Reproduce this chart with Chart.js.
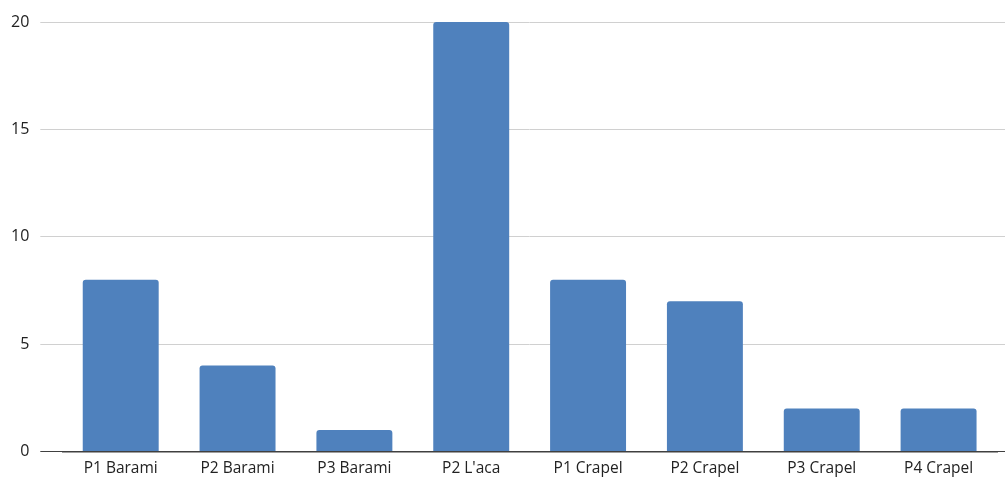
<!DOCTYPE html>
<html>
<head>
<meta charset="utf-8">
<script src="https://cdn.jsdelivr.net/npm/chart.js@4"></script>
<style>
  html, body { margin: 0; padding: 0; background: #fff; }
  #wrap { width: 1005px; height: 479px; }
</style>
</head>
<body>
<div id="wrap"><canvas id="myChart"></canvas></div>
<script>
var categorias = ['P1 Barami', 'P2 Barami', 'P3 Barami', "P2 L'aca", 'P1 Crapel', 'P2 Crapel', 'P3 Crapel', 'P4 Crapel'];
var valores = [8, 4, 1, 20, 8, 7, 2, 2];
var ticksY = [0, 5, 10, 15, 20];

function fijarTicks(axis) {
    axis.ticks = ticksY.map(function (v) { return { value: v }; });
}
function colorGrid(c) {
    return (c.tick && c.tick.value === 0) ? '#404040' : '#d0d0d0';
}

var ctx = document.getElementById("myChart").getContext("2d");
var myChart = new Chart(ctx, {
    type: 'bar',
    data: {
        labels: categorias,
        datasets: [{
            data: valores,
            backgroundColor: '#4f81bd',
            borderRadius: { topLeft: 3, topRight: 3 },
            borderSkipped: 'bottom',
            categoryPercentage: 0.65,
            barPercentage: 1
        }]
    },
    options: {
        responsive: true,
        maintainAspectRatio: false,
        animation: false,
        layout: { padding: { top: 22, right: 0, left: 0, bottom: -6 } },
        plugins: { legend: { display: false }, tooltip: { enabled: false } },
        scales: {
            x: {
                grid: { display: false, drawTicks: false },
                border: { color: '#404040', width: 1.5 },
                ticks: { color: '#222', font: { family: 'Open Sans', size: 15.5, lineHeight: 1 }, padding: 9 }
            },
            y: {
                min: 0,
                max: 20,
                afterBuildTicks: fijarTicks,
                grid: { color: colorGrid, lineWidth: 1, tickLength: 22 },
                border: { display: false },
                ticks: { color: '#222', font: { family: 'Open Sans', size: 16 }, padding: 11 }
            },
            yDer: {
                position: 'right',
                min: 0,
                max: 20,
                afterBuildTicks: fijarTicks,
                grid: { color: colorGrid, lineWidth: 1, tickLength: 8, drawOnChartArea: false },
                border: { display: false },
                ticks: { display: false }
            }
        }
    }
});
</script>
</body>
</html>
